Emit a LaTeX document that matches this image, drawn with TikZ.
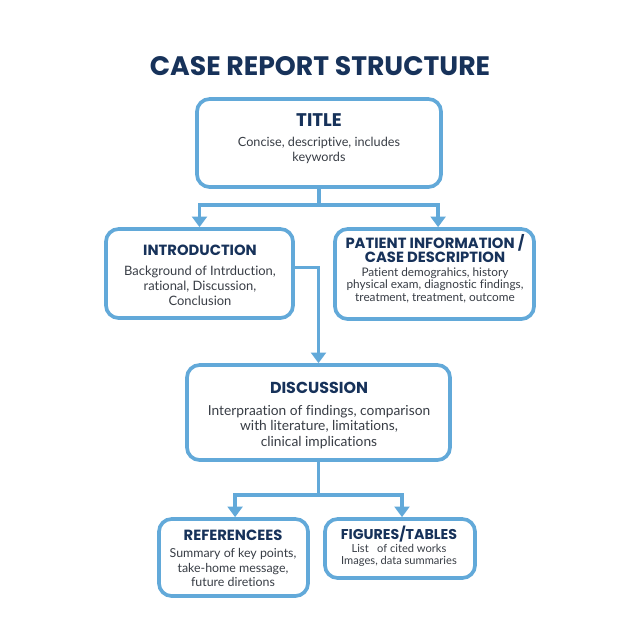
\documentclass[tikz,border=0pt]{standalone}
\usepackage{fontspec}
\setmainfont{Poppins}
\newfontfamily\bodyfont[Ligatures=NoCommon]{Lato}
\usetikzlibrary{arrows.meta,positioning,calc}
\definecolor{boxblue}{HTML}{62A9D9}
\definecolor{headnavy}{HTML}{17325A}
\definecolor{bodygray}{HTML}{383D45}

\begin{document}
\begin{tikzpicture}[x=0.025cm, y=-0.025cm,
  secbox/.style={draw=boxblue, line width=2.6pt, rounded corners=9pt, fill=white},
  conn/.style={draw=boxblue, line width=2.6pt},
  arr/.style={conn, -{Triangle[width=10.5pt,length=7.5pt]}},
  head/.style={text=headnavy, font=\bfseries\fontsize{10.5}{12.5}\selectfont, align=center, inner sep=0pt},
  body/.style={text=bodygray, font=\bodyfont\fontsize{8.5}{10.6}\selectfont, align=center, inner sep=0pt}]
\useasboundingbox[fill=white] (0,0) rectangle (640,640);

% Ueberschrift
\node[text=headnavy, font=\bfseries\fontsize{19}{22}\selectfont] (maintitle) at (320,66) {CASE REPORT STRUCTURE};

% Kaesten
\node[secbox, minimum width=6.1cm, minimum height=2.2cm] (titlebox) at (319,143) {};
\node[secbox, minimum width=4.675cm, minimum height=2.225cm] (intro) at (199.5,273.5) {};
\node[secbox, minimum width=4.975cm, minimum height=2.25cm] (patient) at (434.5,274) {};
\node[secbox, minimum width=6.575cm, minimum height=2.375cm] (disc) at (318.5,412.5) {};
\node[secbox, minimum width=3.725cm, minimum height=1.925cm] (refs) at (233.5,557.5) {};
\node[secbox, minimum width=3.75cm, minimum height=1.475cm] (figs) at (400,548.5) {};

% Texte
\node[head, font=\bfseries\fontsize{13}{15}\selectfont] (titlehead) at (319,120) {TITLE};
\node[body, font=\bodyfont\fontsize{9}{10.6}\selectfont] (titletext) at (319,150) {Concise, descriptive, includes\\keywords};
\node[head] (introhead) at (200,250) {INTRODUCTION};
\node[body, font=\bodyfont\fontsize{9.2}{10.8}\selectfont] (introtext) at (200,286) {Background of Intrduction,\\rational, Discussion,\\Conclusion};
\node[head, font=\bfseries\fontsize{10.5}{10.4}\selectfont] (patienthead) at (435,248.5) {PATIENT INFORMATION /\\CASE DESCRIPTION};
\node[body, font=\bodyfont\fontsize{8.4}{8.9}\selectfont] (patienttext) at (435,285) {Patient demograhics, history\\physical exam, diagnostic findings,\\treatment, treatment, outcome};
\node[head, font=\bfseries\fontsize{11.3}{14}\selectfont] (dischead) at (319,388) {DISCUSSION};
\node[body, font=\bodyfont\fontsize{9.8}{10.8}\selectfont] (disctext) at (319,427) {Interpraation of findings, comparison\\with literature, limitations,\\clinical implications};
\node[head] (refshead) at (233,535) {REFERENCEES};
\node[body, font=\bodyfont\fontsize{8.8}{10.3}\selectfont] (refstext) at (233,567.5) {Summary of key points,\\take-home message,\\future diretions};
\node[head, font=\bfseries\fontsize{10.1}{12}\selectfont] (figshead) at (399,534) {FIGURES/TABLES};
\node[body, font=\bodyfont\fontsize{7.9}{8.6}\selectfont] (figstext) at (399,555) {List \enspace of cited works\\Images, data summaries};

% Verbindungen
\coordinate (tsplit) at (319,205);
\coordinate (dsplit) at (318.5,495);
\draw[conn] (titlebox.south) -- (tsplit);
\draw[arr] (tsplit) -| (intro.north);
\draw[arr] (tsplit) -| ([xshift=0.09cm]patient.north);
\draw[arr] ([yshift=0.15cm]intro.east) -| (disc.north);
\draw[conn] (disc.south) -- (dsplit);
\draw[arr] (dsplit) -| ([xshift=0.04cm]refs.north);
\draw[arr] (dsplit) -| ([xshift=0.05cm]figs.north);
\end{tikzpicture}
\end{document}
